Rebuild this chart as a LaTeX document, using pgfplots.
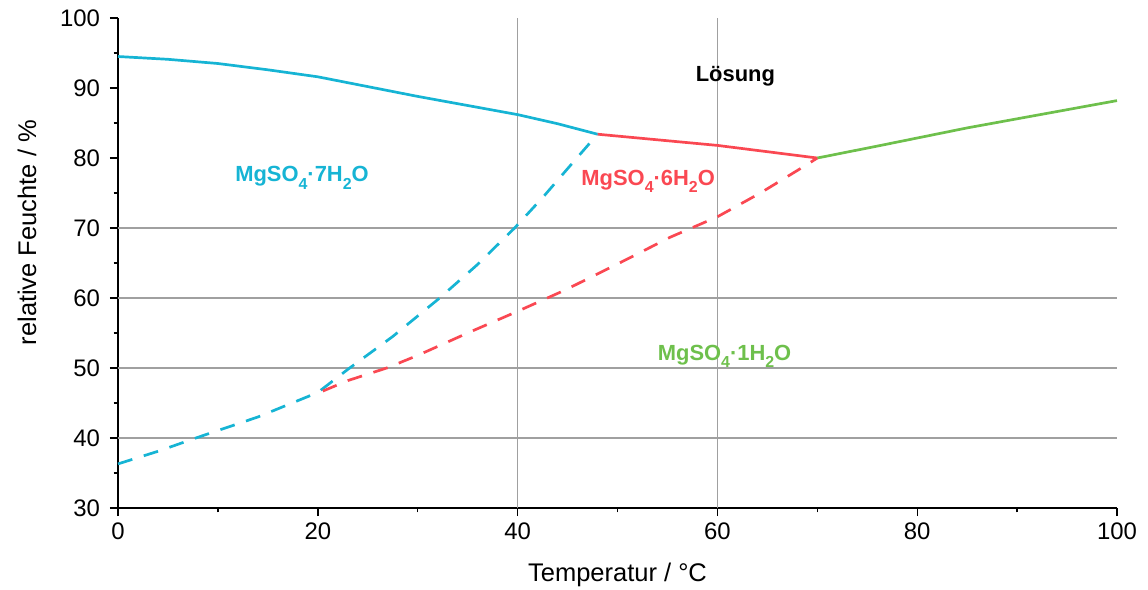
\documentclass[border=0pt]{standalone}
\usepackage{pgfplots}
\pgfplotsset{compat=1.18}
\usepackage{fontspec}
\setmainfont{Liberation Sans}
\definecolor{cblue}{RGB}{22,180,212}
\definecolor{cred}{RGB}{250,72,82}
\definecolor{cgreen}{RGB}{110,192,76}
\definecolor{cgrid}{RGB}{160,160,160}
\newcommand\sub[1]{\raisebox{-3.6bp}{\fontsize{8}{8}\selectfont #1}}
\begin{document}
\begin{tikzpicture}
\useasboundingbox (-59bp,-41bp) rectangle (515bp,254bp);
\begin{axis}[
  at={(0,0)}, anchor=south west,
  scale only axis, width=499.5bp, height=245bp,
  xmin=0, xmax=100, ymin=30, ymax=100,
  axis x line*=bottom, axis y line*=left,
  xtick={0,20,...,100}, ytick={30,40,...,100},
  minor x tick num=1, minor y tick num=1,
  tick align=outside,
  major tick length=4bp, minor tick length=2.2bp,
  tick style={black, line width=0.7bp},
  axis line style={black, line width=0.75bp},
  extra x ticks={40,60}, extra x tick labels={},
  extra y ticks={40,50,60,70}, extra y tick labels={},
  extra tick style={grid=major, major grid style={cgrid, line width=0.6bp}, major tick length=0pt},
  /pgf/number format/assume math mode=true,
  tick label style={font=\fontsize{12}{14}\selectfont},
  yticklabel style={xshift=-1.5bp},
  label style={font=\fontsize{12.8}{15}\selectfont},
  xlabel={Temperatur / °C},
  ylabel={relative Feuchte / \%},
  xlabel style={at={(axis description cs:0.5,-0.137)}, anchor=center},
  ylabel style={at={(axis description cs:-0.091,0.562)}, anchor=center},
  clip=false,
]
\addplot[cblue, line width=1.35bp, line join=round] coordinates {(0,94.5)(5,94.1)(10,93.5)(15,92.6)(20,91.6)(25,90.2)(30,88.8)(35,87.5)(40,86.2)(44,84.9)(48,83.4)};
\addplot[cred, line width=1.35bp] coordinates {(48,83.4)(60,81.8)(70,80)};
\addplot[cgreen, line width=1.35bp] coordinates {(70,80)(76,81.7)(85,84.3)(100,88.2)};
\addplot[cblue, line width=1.35bp, dash pattern=on 7.5bp off 6bp] coordinates {(0,36.3)(4,38.1)(8,40.1)(14,43.0)(20,46.5)(23,49.8)(27.5,54.5)(32.2,60)(36,64.8)(39.7,70)(42.6,74.5)(45.2,78.8)(48,83.4)};
\addplot[cred, line width=1.35bp, dash pattern=on 7.5bp off 6bp] coordinates {(20.5,46.7)(23,48.2)(26.9,50)(30,51.8)(35,55)(40,58.1)(44.7,61.1)(50.2,65)(55.3,68.7)(60,71.6)(64.3,75)(68.9,79)(70,80)};
\node[anchor=base west, inner sep=0, text=cblue, font=\fontsize{11}{13}\selectfont\bfseries] at (axis cs:11.7,76.6) {MgSO\sub{4}·7H\sub{2}O};
\node[anchor=base west, inner sep=0, text=cred, font=\fontsize{11}{13}\selectfont\bfseries] at (axis cs:46.35,76.1) {MgSO\sub{4}·6H\sub{2}O};
\node[anchor=base west, inner sep=0, text=cgreen, font=\fontsize{11}{13}\selectfont\bfseries] at (axis cs:54.0,51.1) {MgSO\sub{4}·1H\sub{2}O};
\node[anchor=base west, inner sep=0, text=black, font=\fontsize{11}{13}\selectfont\bfseries] at (axis cs:57.8,90.9) {Lösung};
\end{axis}
\end{tikzpicture}
\end{document}
